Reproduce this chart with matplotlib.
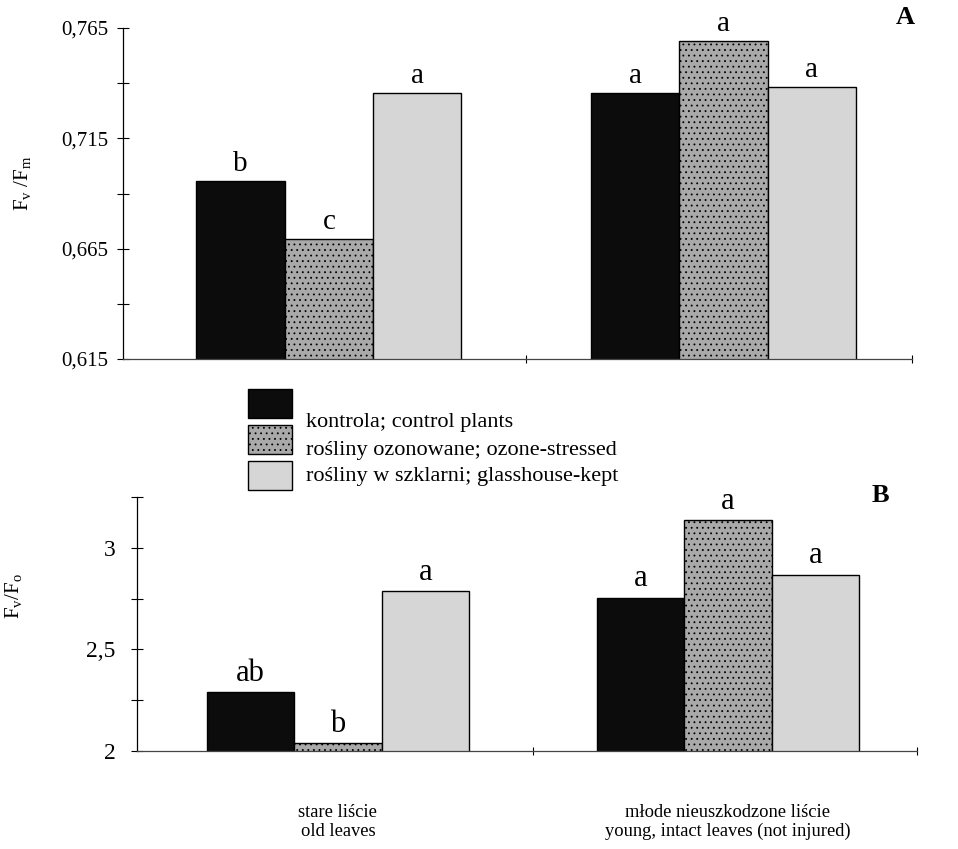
import matplotlib
matplotlib.use("Agg")
import matplotlib.pyplot as plt
import numpy as np
from matplotlib.patches import Rectangle

plt.rcParams['font.family'] = ['Liberation Serif', 'DejaVu Serif']
plt.rcParams['hatch.linewidth'] = 0.6

groups = ["stare liście\nold leaves", "młode nieuszkodzone liście\nyoung, intact leaves (not injured)"]
series = ["kontrola; control plants", "rośliny ozonowane; ozone-stressed", "rośliny w szklarni; glasshouse-kept"]

fvfm_control = [0.6955, 0.7355]
fvfm_ozone = [0.6695, 0.759]
fvfm_glass = [0.7355, 0.7382]
fvfm_letters = [["b", "a"], ["c", "a"], ["a", "a"]]

fvfo_control = [2.29, 2.755]
fvfo_ozone = [2.04, 3.137]
fvfo_glass = [2.785, 2.868]
fvfo_letters = [["ab", "a"], ["b", "a"], ["a", "a"]]

yticks_a = [0.615, 0.665, 0.715, 0.765]
yticklabels_a = ["0,615", "0,665", "0,715", "0,765"]
yminor_a = [0.64, 0.69, 0.74]
yticks_b = [2.0, 2.5, 3.0]
yticklabels_b = ["2", "2,5", "3"]
yminor_b = [2.25, 2.75, 3.25]

faces = ["#0c0c0c", "#a9a9a9", "#d6d6d6"]
hatches = [None, "...", None]

fig = plt.figure(figsize=(9.58, 8.49), dpi=100)
axA = fig.add_axes([123/958, 1-359/849, (912-123)/958, (359-28)/849])
axB = fig.add_axes([137/958, 1-751/849, (917-137)/958, (751-497)/849])

x = np.arange(len(groups))
w = 0.224

def draw(ax, vals, letters, ylim, xlim, yt, ytl, ymin, tsize, lsize, pad):
    for i, v in enumerate(vals):
        bars = ax.bar(x + (i-1)*w, v, width=w, color=faces[i], edgecolor="black",
                      linewidth=1.0, hatch=hatches[i])
        for b, lab in zip(bars, letters[i]):
            ax.annotate(lab, (b.get_x()+b.get_width()/2, b.get_height()),
                        xytext=(0, 3), textcoords="offset points",
                        ha="center", va="bottom", fontsize=lsize)
    ax.set_xlim(*xlim)
    ax.set_ylim(*ylim)
    ax.set_yticks(yt)
    ax.set_yticklabels(ytl, fontsize=tsize)
    ax.set_yticks(ymin, minor=True)
    ax.tick_params(axis="y", which="both", direction="inout", length=9, width=0.8, pad=pad)
    ax.set_xticks([0.5, xlim[1]], minor=True)
    ax.tick_params(axis="x", which="minor", direction="inout", length=6, width=0.8)
    for s in ["top", "right"]:
        ax.spines[s].set_visible(False)
    ax.spines["left"].set_linewidth(0.9)
    ax.spines["bottom"].set_linewidth(0.9)
    ax.spines["bottom"].set_color("#444444")

draw(axA, [fvfm_control, fvfm_ozone, fvfm_glass], fvfm_letters, (0.615, 0.765), (-0.522, 1.478),
     yticks_a, yticklabels_a, yminor_a, 15, 21, 6)
axA.set_xticks([])
draw(axB, [fvfo_control, fvfo_ozone, fvfo_glass], fvfo_letters, (2.0, 3.25), (-0.515, 1.485),
     yticks_b, yticklabels_b, yminor_b, 17, 22, 11)
axB.set_xticks(x)
axB.set_xticklabels(groups, fontsize=13.3, linespacing=1.15)
axB.tick_params(axis="x", which="major", length=0, pad=38)

axA.set_ylabel(r"F$_\mathregular{v}$ /F$_\mathregular{m}$", fontsize=15)
axB.set_ylabel(r"F$_\mathregular{v}$/F$_\mathregular{o}$", fontsize=15)
axA.yaxis.set_label_coords(-0.113, 0.53)
axB.yaxis.set_label_coords(-0.143, 0.61)

fig.text(905/958, 1-18/849, "A", fontsize=19, fontweight="bold", ha="center", va="center")
fig.text(880/958, 1-495/849, "B", fontsize=19, fontweight="bold", ha="center", va="center")

# legend
sq_top = [389, 425, 461]
txt_y = [423, 450, 477]
for i in range(3):
    r = Rectangle((248/958, 1-(sq_top[i]+29)/849), 44/958, 29/849, transform=fig.transFigure,
                  facecolor=faces[i], edgecolor="black", linewidth=1.0, hatch=hatches[i])
    fig.patches.append(r)
    fig.text(306/958, 1-txt_y[i]/849, series[i], fontsize=16, ha="left", va="center")

fig.savefig("out.png", dpi=100)
